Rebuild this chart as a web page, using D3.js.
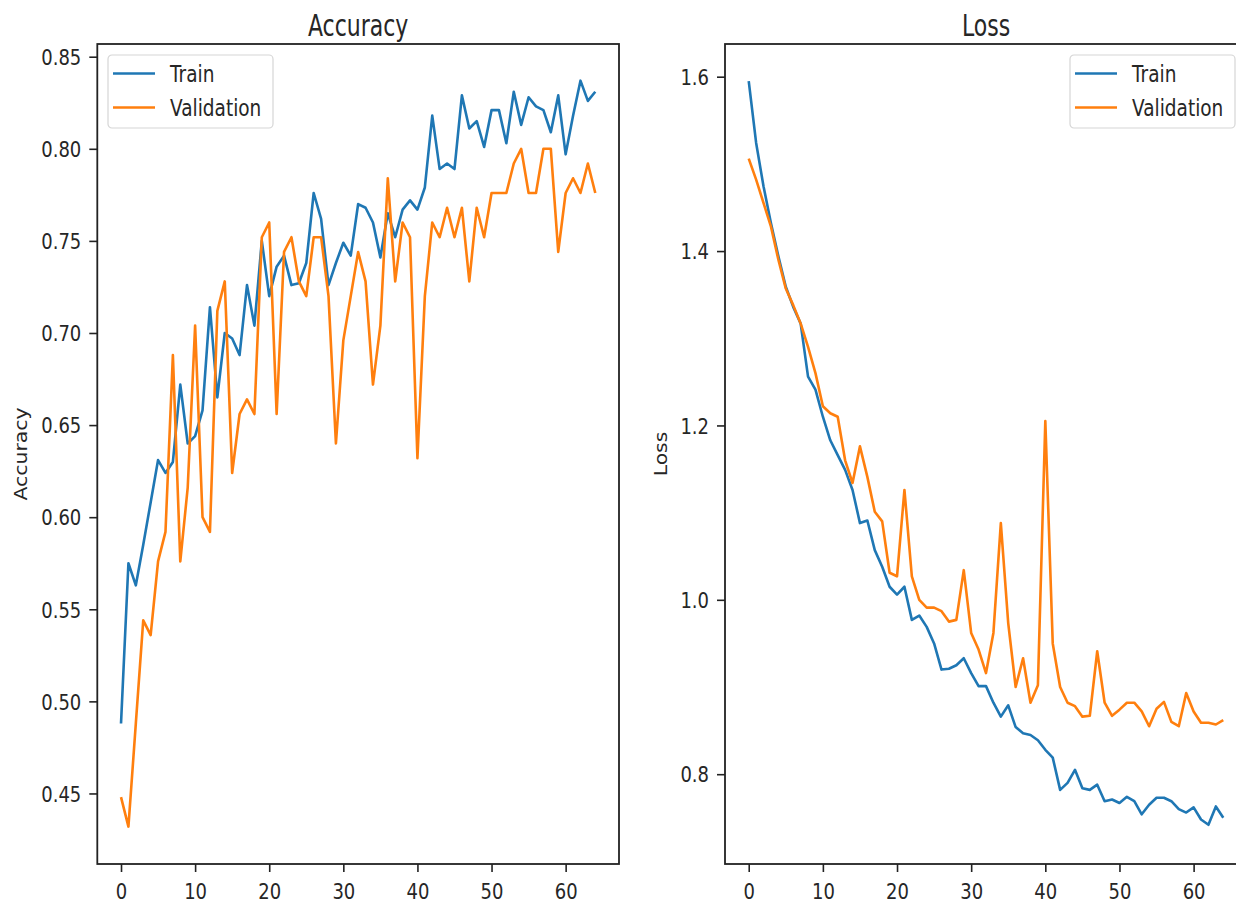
<!DOCTYPE html>
<html>
<head>
<meta charset="utf-8">
<script src="https://cdn.jsdelivr.net/npm/d3@7"></script>
<style>
  body { margin: 0; background: #fff; }
  text { font-family: "DejaVu Sans", sans-serif; fill: #262626; }
</style>
</head>
<body>
<div id="graph"></div>
<script>
// accuracy per epoch
var trainAcc = [0.488, 0.575, 0.563, 0.585, 0.608, 0.631, 0.624, 0.630, 0.672, 0.640,
                0.644, 0.658, 0.714, 0.665, 0.700, 0.697, 0.688, 0.726, 0.704, 0.750,
                0.720, 0.736, 0.742, 0.726, 0.727, 0.738, 0.776, 0.762, 0.726, 0.738,
                0.749, 0.742, 0.770, 0.768, 0.760, 0.741, 0.765, 0.752, 0.767, 0.772,
                0.767, 0.779, 0.818, 0.789, 0.792, 0.789, 0.829, 0.811, 0.815, 0.801,
                0.821, 0.821, 0.803, 0.831, 0.813, 0.828, 0.823, 0.821, 0.809, 0.829,
                0.797, 0.818, 0.837, 0.826, 0.831];
var valAcc = [0.448, 0.432, 0.488, 0.544, 0.536, 0.576, 0.592, 0.688, 0.576, 0.616,
              0.704, 0.600, 0.592, 0.712, 0.728, 0.624, 0.656, 0.664, 0.656, 0.752,
              0.760, 0.656, 0.744, 0.752, 0.728, 0.720, 0.752, 0.752, 0.720, 0.640,
              0.696, 0.720, 0.744, 0.728, 0.672, 0.704, 0.784, 0.728, 0.760, 0.752,
              0.632, 0.720, 0.760, 0.752, 0.768, 0.752, 0.768, 0.728, 0.768, 0.752,
              0.776, 0.776, 0.776, 0.792, 0.800, 0.776, 0.776, 0.800, 0.800, 0.744,
              0.776, 0.784, 0.776, 0.792, 0.776];

// loss per epoch
var trainLoss = [1.595, 1.524, 1.474, 1.432, 1.394, 1.359, 1.336, 1.317, 1.256, 1.241,
                 1.210, 1.183, 1.166, 1.149, 1.126, 1.088, 1.091, 1.057, 1.038, 1.015,
                 1.006, 1.015, 0.977, 0.982, 0.969, 0.950, 0.920, 0.921, 0.925, 0.933,
                 0.916, 0.901, 0.901, 0.882, 0.866, 0.879, 0.854, 0.847, 0.845, 0.839,
                 0.828, 0.819, 0.782, 0.790, 0.805, 0.784, 0.782, 0.788, 0.769, 0.771,
                 0.767, 0.774, 0.769, 0.754, 0.765, 0.773, 0.773, 0.769, 0.760, 0.756,
                 0.762, 0.748, 0.742, 0.763, 0.750];
var valLoss = [1.506, 1.482, 1.455, 1.428, 1.390, 1.357, 1.338, 1.317, 1.290, 1.260,
               1.222, 1.214, 1.210, 1.160, 1.134, 1.176, 1.141, 1.101, 1.090, 1.031,
               1.027, 1.126, 1.027, 1.000, 0.991, 0.991, 0.987, 0.975, 0.977, 1.034,
               0.962, 0.943, 0.916, 0.962, 1.088, 0.973, 0.900, 0.933, 0.882, 0.902,
               1.205, 0.950, 0.900, 0.882, 0.878, 0.866, 0.867, 0.941, 0.882, 0.867,
               0.874, 0.882, 0.882, 0.872, 0.855, 0.875, 0.883, 0.860, 0.855, 0.893,
               0.872, 0.859, 0.859, 0.857, 0.862];

var xTicks = [0, 10, 20, 30, 40, 50, 60];
var accTicks = [0.45, 0.50, 0.55, 0.60, 0.65, 0.70, 0.75, 0.80, 0.85];
var lossTicks = [0.8, 1.0, 1.2, 1.4, 1.6];
var accLimits = [0.4117, 0.8569];
var lossLimits = [0.697, 1.6375];
var seriesNames = ["Train", "Validation"];
var colors = ["#1f77b4", "#ff7f0e"];

var W = 1236, H = 907;
var plotTop = 44, plotBottom = 864;
var sy = 1.2;   // picture is stretched vertically

var svg = d3.select("#graph")
            .append("svg")
            .attr("width", W)
            .attr("height", H);
svg.append("rect").attr("width", W).attr("height", H).attr("fill", "#fff");

function panel(opt)
{
    var g = svg.append("g");
    var n = opt.series[0].length;
    var x = d3.scaleLinear()
              .domain([-(n - 1) * 0.05, (n - 1) * 1.05])
              .range([opt.left, opt.right]);
    var y = d3.scaleLinear()
              .domain(opt.limits)
              .range([plotBottom, plotTop]);

    var line = d3.line()
                 .x(function(d, i) { return x(i); })
                 .y(function(d) { return y(d); });

    opt.series.forEach(function(s, k) {
        g.append("path")
         .datum(s)
         .attr("fill", "none")
         .attr("stroke", colors[k])
         .attr("stroke-width", 2.6)
         .attr("stroke-linejoin", "round")
         .attr("d", line);
    });

    // frame
    g.append("rect")
     .attr("x", opt.left).attr("y", plotTop)
     .attr("width", opt.right - opt.left).attr("height", plotBottom - plotTop)
     .attr("fill", "none").attr("stroke", "#222").attr("stroke-width", 1.8);

    var xa = g.append("g")
              .attr("transform", "translate(0," + plotBottom + ")")
              .call(d3.axisBottom(x).tickValues(xTicks).tickSize(8).tickFormat(d3.format("d")));
    xa.select(".domain").remove();
    xa.selectAll("line").attr("stroke", "#222").attr("stroke-width", 1.6);
    xa.selectAll("text")
      .attr("y", 29).attr("dy", 0)
      .attr("transform", "scale(1," + sy + ")")
      .style("font-size", "18px").style("font-family", "DejaVu Sans").attr("fill", "#262626");

    var ya = g.append("g")
              .attr("transform", "translate(" + opt.left + ",0)")
              .call(d3.axisLeft(y).tickValues(opt.ticks).tickSize(8).tickPadding(8).tickFormat(d3.format(opt.fmt)));
    ya.select(".domain").remove();
    ya.selectAll("line").attr("stroke", "#222").attr("stroke-width", 1.6);
    ya.selectAll("text")
      .attr("dy", "0.36em")
      .attr("transform", "scale(1," + sy + ")")
      .style("font-size", "18px").style("font-family", "DejaVu Sans").attr("fill", "#262626");

    // title
    g.append("text")
     .attr("transform", "translate(" + ((opt.left + opt.right) / 2) + ",36) scale(1,1.4)")
     .attr("text-anchor", "middle")
     .style("font-size", "22px")
     .text(opt.title);

    // y label
    g.append("text")
     .attr("transform", "translate(" + opt.labelX + "," + ((plotTop + plotBottom) / 2) + ") rotate(-90) scale(" + sy + ",1)")
     .attr("text-anchor", "middle")
     .style("font-size", "17px")
     .text(opt.title);

    // legend
    var lg = g.append("g").attr("transform", "translate(" + opt.legendX + ",55)");
    lg.append("rect")
      .attr("width", 165).attr("height", 73).attr("rx", 4)
      .attr("fill", "#fff").attr("fill-opacity", 0.8)
      .attr("stroke", "#d6d6d6").attr("stroke-width", 1.2);
    seriesNames.forEach(function(name, k) {
        var yy = 18.5 + k * 34;
        lg.append("line")
          .attr("x1", 5).attr("x2", 47).attr("y1", yy).attr("y2", yy)
          .attr("stroke", colors[k]).attr("stroke-width", 2.6);
        lg.append("text")
          .attr("transform", "translate(62," + (yy + 8) + ") scale(1," + sy + ")")
          .style("font-size", "18.5px")
          .text(name);
    });
}

panel({ left: 97.3, right: 619, series: [trainAcc, valAcc], limits: accLimits,
        ticks: accTicks, fmt: ".2f", title: "Accuracy", labelX: 27, legendX: 108 });
panel({ left: 725, right: 1247, series: [trainLoss, valLoss], limits: lossLimits,
        ticks: lossTicks, fmt: ".1f", title: "Loss", labelX: 667, legendX: 1070 });
</script>
</body>
</html>
